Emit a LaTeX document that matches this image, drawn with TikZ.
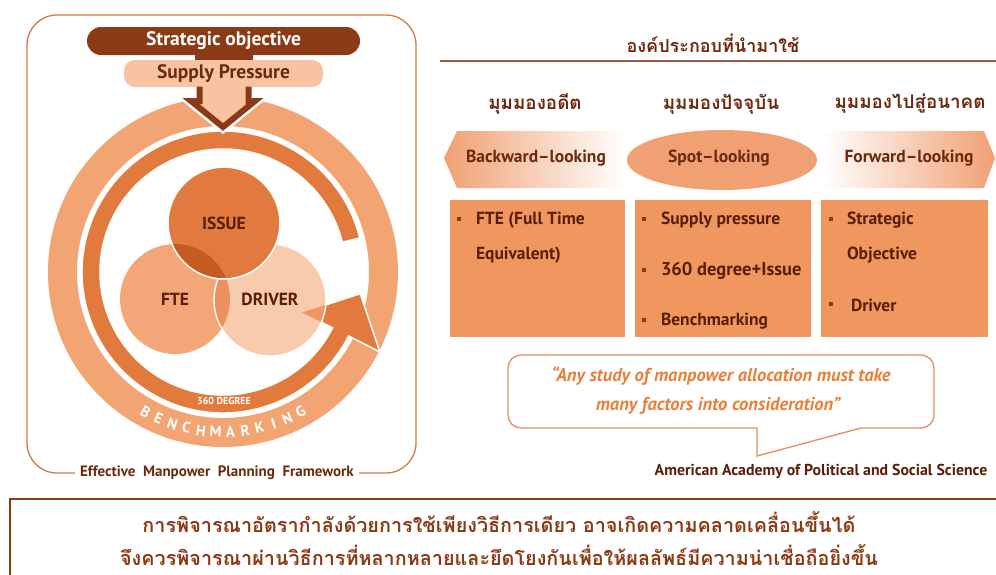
\documentclass[tikz,border=0pt]{standalone}
\usepackage{fontspec}
\setmainfont{PT Sans}
\newfontfamily\thai[Script=Thai]{Loma}
\usetikzlibrary{shapes.geometric,calc}
\definecolor{dbrown}{HTML}{8B3A16}
\definecolor{tbrown}{HTML}{6B2A0E}
\definecolor{vbrown}{HTML}{5A1E08}
\definecolor{peach}{HTML}{F8C3A0}
\definecolor{ringc}{HTML}{F2A572}
\definecolor{bandc}{HTML}{E2793D}
\definecolor{issuec}{HTML}{E27A40}
\definecolor{ftec}{HTML}{F3A779}
\definecolor{driverc}{HTML}{F9CBAE}
\definecolor{ifc}{HTML}{C55A22}
\definecolor{fdc}{HTML}{EB9160}
\definecolor{headlc}{HTML}{EE9560}
\definecolor{boxc}{HTML}{F0965F}
\definecolor{shapec}{HTML}{F0A073}
\definecolor{quotec}{HTML}{E8803A}
\definecolor{bubblec}{HTML}{E09060}
\definecolor{panelc}{HTML}{D07A45}
\tikzset{
  lbl/.style={font=\bfseries\fontsize{17.5}{17.5}\selectfont, text=tbrown},
  venn/.style={font=\bfseries\fontsize{17.5}{17.5}\selectfont, text=vbrown},
  boxtxt/.style={anchor=west, font=\bfseries\fontsize{17.5}{17.5}\selectfont, text=vbrown},
  bulletbox/.style={fill=dbrown, minimum size=4.5pt, inner sep=0pt},
  thaisub/.style={font=\thai\bfseries\fontsize{18.8}{18.8}\selectfont, text=tbrown},
  thaibottom/.style={font=\thai\bfseries\fontsize{19.8}{19.8}\selectfont, text=dbrown},
  cardbox/.style={fill=boxc},
}
\begin{document}
\begin{tikzpicture}[x=1pt,y=1pt, every node/.style={inner sep=0pt, outer sep=0pt}]
\useasboundingbox (0,0) rectangle (996,-574);
\fill[white] (0,0) rectangle (996,-574);

% ---------- left panel ----------
\draw[panelc, line width=1.3pt, rounded corners=30pt] (27,-15) rectangle (416,-473);

\coordinate (C) at (223,-272);
\fill[ringc, even odd rule] (C) circle[radius=175pt] (C) circle[radius=146pt];

% 360-degree band with arrow head
\fill[bandc, draw=white, line width=1.5pt]
  ($(C)+(14:141pt)$) arc[start angle=14, end angle=333, radius=141pt]
  -- ($(C)+(333:176pt)$) -- ($(C)+(351:139pt)$) -- ($(C)+(333:89pt)$)
  -- ($(C)+(333:123pt)$) arc[start angle=333, end angle=14, radius=123pt] -- cycle;

% benchmarking letters
\foreach \l [count=\i from 0] in {B,E,N,C,H,M,A,R,K,I,N,G}{
  \pgfmathsetmacro\ang{241+\i*58/11}
  \node[font=\bfseries\fontsize{15}{15}\selectfont, text=white, rotate=\ang+90]
    (bm\i) at ($(C)+(\ang:160pt)$) {\l};
}
\node[font=\bfseries\fontsize{10}{10}\selectfont, text=white] (deg) at (224,-401) {360 DEGREE};

% venn
\fill[ftec] (175,-299) circle[radius=55pt];
\fill[driverc] (270,-300) circle[radius=56pt];
\begin{scope}
  \clip (175,-299) circle[radius=55pt];
  \fill[fdc] (270,-300) circle[radius=56pt];
\end{scope}
\begin{scope}
  \clip (270,-300) circle[radius=56pt];
  \fill[headlc] ($(C)+(333:176pt)$) -- ($(C)+(351:139pt)$) -- ($(C)+(333:89pt)$) -- cycle;
\end{scope}
\draw[white, line width=1.3pt] (270,-300) circle[radius=56pt];
\fill[issuec, draw=white, line width=1.5pt] (224,-223) circle[radius=56pt];
\begin{scope}
  \clip (224,-223) circle[radius=55pt];
  \fill[ifc] (175,-299) circle[radius=55pt];
\end{scope}
\node[venn] (issue) at (224,-223) {ISSUE};
\node[venn] (fte) at (175,-299) {FTE};
\node[venn] (driver) at (270,-299) {DRIVER};

% top bars
\fill[dbrown] (195,-50) rectangle (253,-62);
\node[fill=dbrown, rounded corners=14pt, minimum width=273pt, minimum height=28pt,
      text=white, font=\bfseries\fontsize{19.5}{19.5}\selectfont] (strat) at (223.5,-41) {Strategic objective};
\node[fill=peach, rounded corners=11pt, minimum width=199pt, minimum height=27pt,
      text=tbrown, font=\bfseries\fontsize{19.5}{19.5}\selectfont] (supply) at (223.5,-73.5) {Supply Pressure};

% chevron arrow
\draw[white, line width=11pt, line join=miter]
  (199.5,-88) -- (199.5,-101) -- (191,-101) -- (223,-127) -- (255,-101) -- (248.5,-101) -- (248.5,-88);
\fill[peach] (199.5,-86) -- (199.5,-101) -- (191,-101) -- (223,-127) -- (255,-101) -- (248.5,-101) -- (248.5,-86) -- cycle;
\draw[dbrown, line width=6pt, line join=miter]
  (199.5,-86.5) -- (199.5,-101) -- (191,-101) -- (223,-127) -- (255,-101) -- (248.5,-101) -- (248.5,-86.5);

\node[fill=white, inner xsep=5pt, inner ysep=2pt, text=tbrown,
      font=\bfseries\fontsize{15}{15}\selectfont] (emp) at (217,-473) {Effective\ \ Manpower\ \ Planning\ \ Framework};

% ---------- right panel ----------
\node[thaisub, font=\thai\bfseries\fontsize{18}{18}\selectfont] (title) at (713,-43) {องค์ประกอบที่นำมาใช้};
\coordinate (l1) at (440,-61);
\coordinate (l2) at (996,-61);
\draw[dbrown!85, line width=1.3pt] (l1) -- (l2);

\node[thaisub] (past) at (535,-104) {มุมมองอดีต};
\node[thaisub] (now) at (721,-104) {มุมมองปัจจุบัน};
\node[thaisub] (fut) at (910,-104) {มุมมองไปสู่อนาคต};

\shade[left color=shapec, middle color=shapec!85, right color=white]
  (444,-158) -- (457,-131) -- (625,-131) -- (625,-188) -- (457,-188) -- cycle;
\node[lbl] (back) at (536,-158) {Backward–looking};
\node[ellipse, fill=shapec, minimum width=190pt, minimum height=60pt] (spot) at (722,-160) {};
\node[lbl] (spott) at (719,-158) {Spot–looking};
\shade[left color=white, middle color=shapec!85, right color=shapec]
  (822,-131) -- (984,-131) -- (995,-158) -- (984,-188) -- (822,-188) -- cycle;
\node[lbl] (fwd) at (909,-158) {Forward–looking};

\fill[cardbox] (450,-200) rectangle (625,-337);
\fill[cardbox] (635,-200) rectangle (811,-337);
\fill[cardbox] (821,-200) rectangle (988,-337);

\node[bulletbox] (b1) at (459,-219) {};
\node[boxtxt] (t1) at (476,-220) {FTE (Full Time};
\node[boxtxt] (t1b) at (476,-255) {Equivalent)};
\node[bulletbox] (b2) at (644,-219) {};
\node[boxtxt] (t2) at (661,-220) {Supply pressure};
\node[bulletbox] (b3) at (644,-270) {};
\node[boxtxt, font=\bfseries\fontsize{18.5}{18.5}\selectfont] (t3) at (661,-271) {360 degree+Issue};
\node[bulletbox] (b4) at (644,-320) {};
\node[boxtxt] (t4) at (661,-321) {Benchmarking};
\node[bulletbox] (b5) at (831,-219) {};
\node[boxtxt] (t5) at (847,-220) {Strategic};
\node[boxtxt] (t5b) at (847,-255) {Objective};
\node[bulletbox] (b6) at (831,-304) {};
\node[boxtxt] (t6) at (851,-305) {Driver};

% quote bubble
\draw[bubblec, line width=1.3pt] (757,-428) -- (757,-456) -- (861,-428)
  {[rounded corners=13pt] -- (934,-428) -- (934,-355) -- (508,-355) -- (508,-428)} -- (757,-428);
\node[font=\bfseries\itshape\fontsize{18.5}{18.5}\selectfont, text=quotec] (q1) at (721,-376)
  {“Any study of manpower allocation must take};
\node[font=\bfseries\itshape\fontsize{18.5}{18.5}\selectfont, text=quotec] (q2) at (718,-406)
  {many factors into consideration”};
\node[font=\bfseries\fontsize{15.8}{15.8}\selectfont, text=vbrown] (src) at (821,-471)
  {American Academy of Political and Social Science};

% ---------- bottom box ----------
\draw[dbrown, line width=2.8pt] (10,-499) rectangle (1010,-600);
\node[thaibottom] (m1) at (499,-522) {การพิจารณาอัตรากำลังด้วยการใช้เพียงวิธีการเดียว อาจเกิดความคลาดเคลื่อนขึ้นได้};
\node[thaibottom] (m2) at (499,-555) {จึงควรพิจารณาผ่านวิธีการที่หลากหลายและยึดโยงกันเพื่อให้ผลลัพธ์มีความน่าเชื่อถือยิ่งขึ้น};
\end{tikzpicture}
\end{document}
